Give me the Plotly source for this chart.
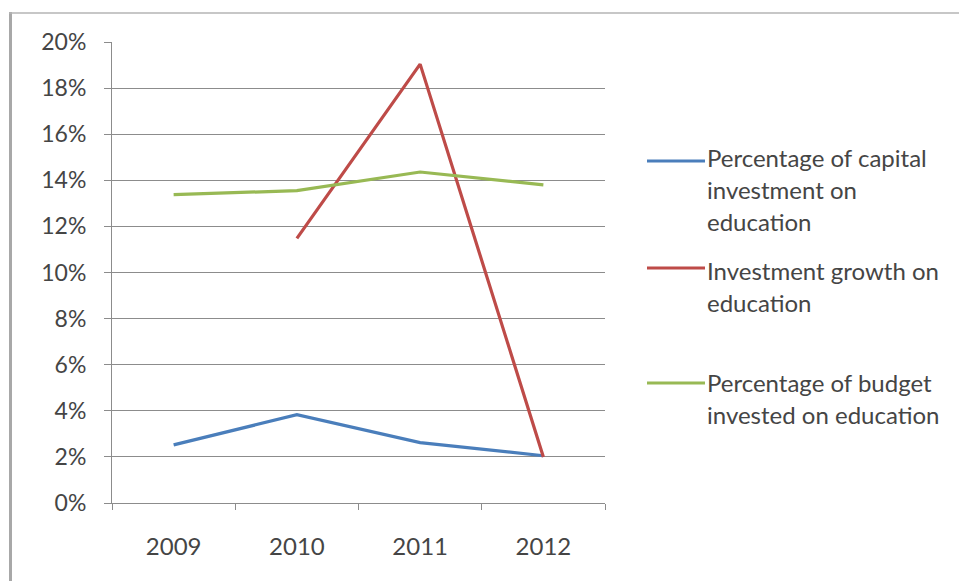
import plotly.graph_objects as go

# Chart data
years = ["2009", "2010", "2011", "2012"]
capital_share = [0.0252, 0.0383, 0.0262, 0.0205]
investment_growth = [None, 0.1148, 0.1904, 0.0200]
budget_share = [0.1338, 0.1355, 0.1436, 0.1380]

series_names = [
    ["Percentage of capital", "investment on", "education"],
    ["Investment growth on", "education"],
    ["Percentage of budget", "invested on education"],
]
series_colors = ["#4A7EBB", "#BE4B48", "#98B954"]
series_values = [capital_share, investment_growth, budget_share]

W, H = 959, 581
L, R, T, B = 112, 354, 42, 78
PW, PH = W - L - R, H - T - B


def px_x(x):
    return (x - L) / PW


def px_y(y):
    return 1 - (y - T) / PH


FONT = "Lato"
TXT = "#454545"
GRID = "#8c8c8c"

fig = go.Figure()
for vals, col, name in zip(series_values, series_colors, series_names):
    fig.add_trace(go.Scatter(
        x=years, y=vals, mode="lines", name=" ".join(name),
        line=dict(color=col, width=3.2), connectgaps=False,
        showlegend=False,
    ))

shapes = []
annotations = []

# Hand-placed legend
legend_rows = [
    (161, [157, 189, 221]),
    (268, [270, 302]),
    (383, [382, 414]),
]
for (sym_y, text_ys), col, lines in zip(legend_rows, series_colors, series_names):
    shapes.append(dict(
        type="line", xref="paper", yref="paper",
        x0=px_x(647), x1=px_x(705), y0=px_y(sym_y), y1=px_y(sym_y),
        line=dict(color=col, width=3.2),
    ))
    for ty, line in zip(text_ys, lines):
        annotations.append(dict(
            text=line, xref="paper", yref="paper",
            x=px_x(705), y=px_y(ty), xanchor="left", yanchor="middle",
            showarrow=False, font=dict(family=FONT, size=24, color=TXT),
        ))

# Chart frame: left and top edges only
shapes.append(dict(
    type="line", xref="paper", yref="paper", layer="below",
    x0=px_x(10.5), x1=px_x(10.5), y0=px_y(600), y1=px_y(12),
    line=dict(color="#a8a8a8", width=3),
))
shapes.append(dict(
    type="line", xref="paper", yref="paper", layer="below",
    x0=px_x(9), x1=px_x(970), y0=px_y(13), y1=px_y(13),
    line=dict(color="#b4b4b4", width=1.5),
))

fig.update_layout(
    width=W, height=H,
    margin=dict(l=L, r=R, t=T, b=B),
    paper_bgcolor="white", plot_bgcolor="white",
    font=dict(family=FONT, size=22, color=TXT),
    shapes=shapes, annotations=annotations,
    showlegend=False,
)
fig.update_xaxes(
    type="category", range=[-0.5, 3.5],
    showgrid=False, showline=True, linecolor=GRID, linewidth=1,
    ticks="outside", tickson="boundaries", ticklen=6, tickcolor=GRID,
    ticklabelstandoff=22,
    tickfont=dict(family=FONT, size=24, color=TXT),
)
fig.update_yaxes(
    range=[0, 0.2], dtick=0.02, tickformat=".0%",
    showgrid=True, gridcolor=GRID, gridwidth=1,
    showline=True, linecolor=GRID, linewidth=1,
    ticks="outside", ticklen=7, tickcolor=GRID,
    ticklabelstandoff=13, zeroline=False,
    tickfont=dict(family=FONT, size=23, color=TXT),
)

fig.write_html("out.html")
